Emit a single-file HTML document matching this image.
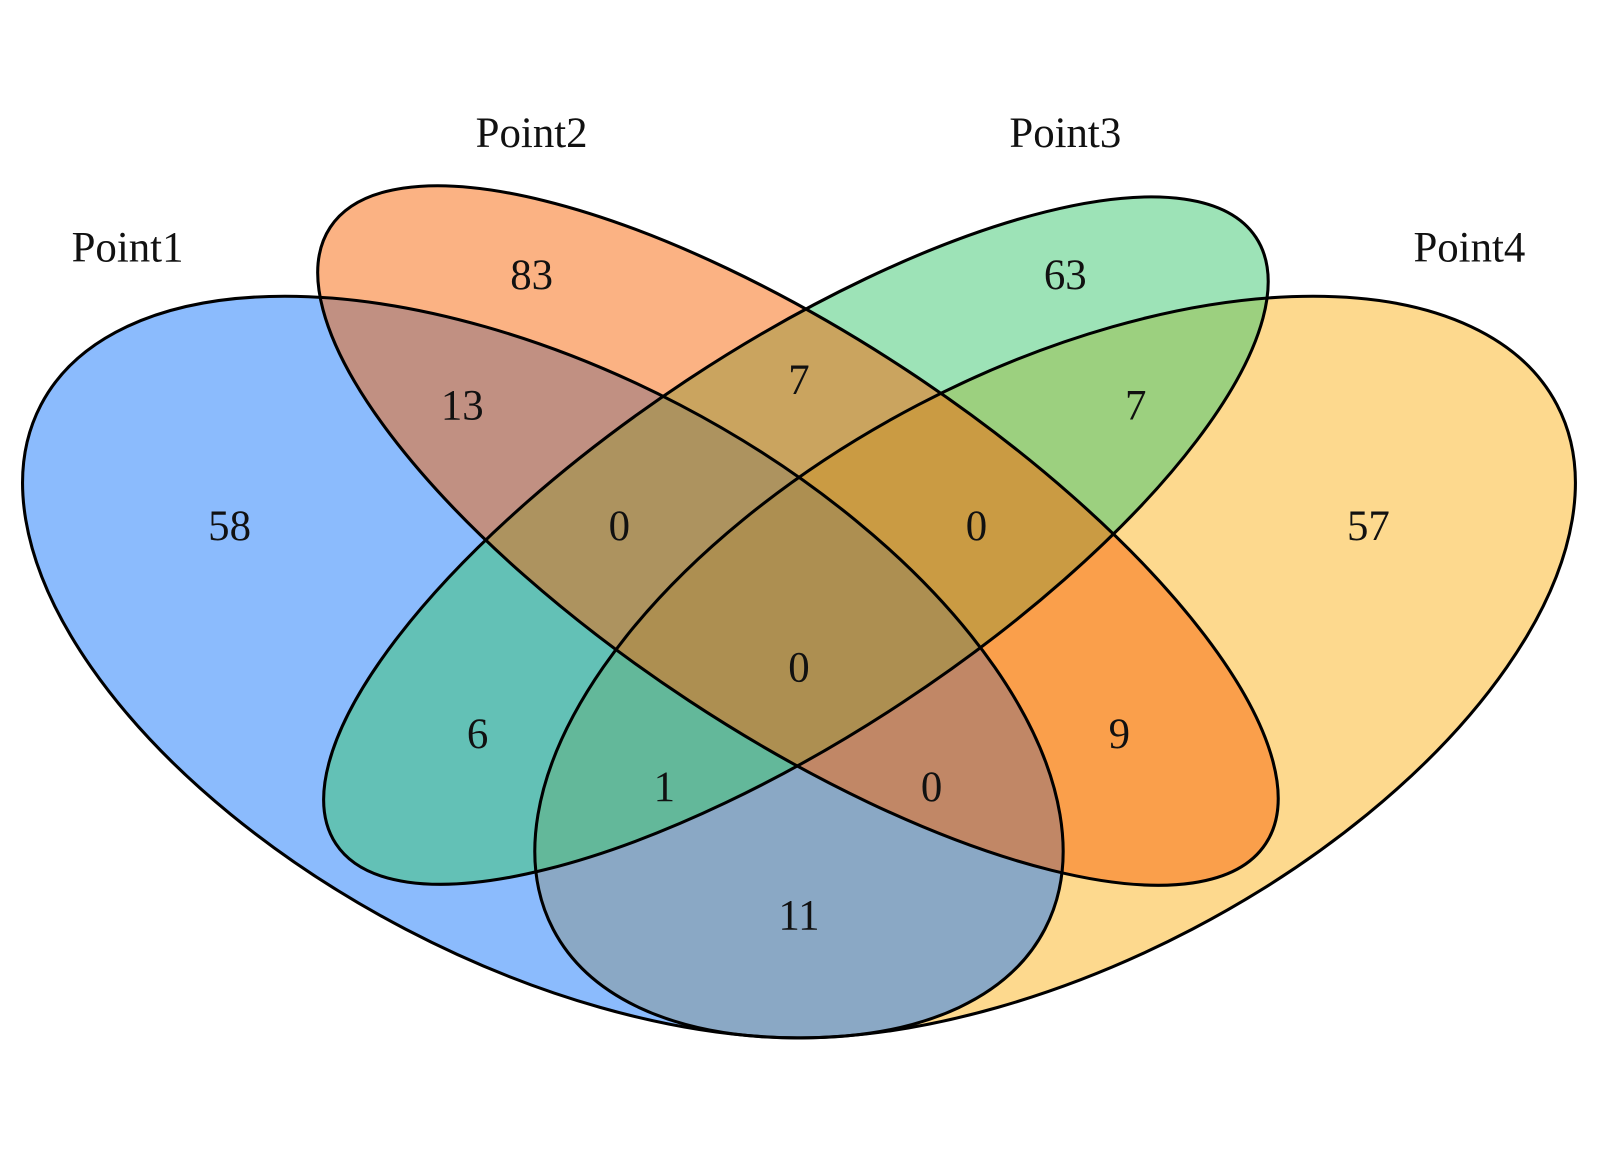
<!DOCTYPE html>
<html><head><meta charset="utf-8"><style>
html,body{margin:0;padding:0;background:#fff;}
svg{display:block;}
text{font-family:"Liberation Serif",serif;font-size:42px;fill:#111;text-anchor:middle;dominant-baseline:central;}
</style></head><body>
<svg width="1600" height="1172" viewBox="0 0 1568 1149" preserveAspectRatio="none" xmlns="http://www.w3.org/2000/svg">
<defs>
<ellipse id="e1" cx="532" cy="654" rx="555" ry="290" transform="rotate(27.6 532 654)"/>
<ellipse id="e2" cx="782" cy="525" rx="549" ry="194" transform="rotate(33.4 782 525)"/>
<ellipse id="e3" cx="780" cy="530" rx="540" ry="190" transform="rotate(-33.4 780 530)"/>
<ellipse id="e4" cx="1034" cy="654" rx="555" ry="290" transform="rotate(-27.6 1034 654)"/>
</defs>
<rect width="1568" height="1149" fill="#fff"/>
<g fill-opacity="0.5">
<use href="#e4" fill="rgb(251,179,29)"/>
<use href="#e1" fill="rgb(23,119,251)"/>
<use href="#e3" fill="rgb(59,199,111)"/>
<use href="#e2" fill="rgb(247,101,7)"/>
</g>
<g fill="none" stroke="#000" stroke-width="3">
<use href="#e1"/><use href="#e2"/><use href="#e3"/><use href="#e4"/>
</g>
<g>
<text x="125" y="243">Point1</text>
<text x="521" y="131">Point2</text>
<text x="1044" y="131">Point3</text>
<text x="1440" y="243">Point4</text>
<text x="225" y="516">58</text>
<text x="521" y="270">83</text>
<text x="1044" y="270">63</text>
<text x="1341" y="516">57</text>
<text x="453" y="398">13</text>
<text x="783" y="373">7</text>
<text x="1113" y="398">7</text>
<text x="607" y="516">0</text>
<text x="957" y="516">0</text>
<text x="783" y="655">0</text>
<text x="468" y="720">6</text>
<text x="1097" y="720">9</text>
<text x="651" y="772">1</text>
<text x="913" y="772">0</text>
<text x="783" y="898">11</text>
</g>
</svg>
</body></html>
